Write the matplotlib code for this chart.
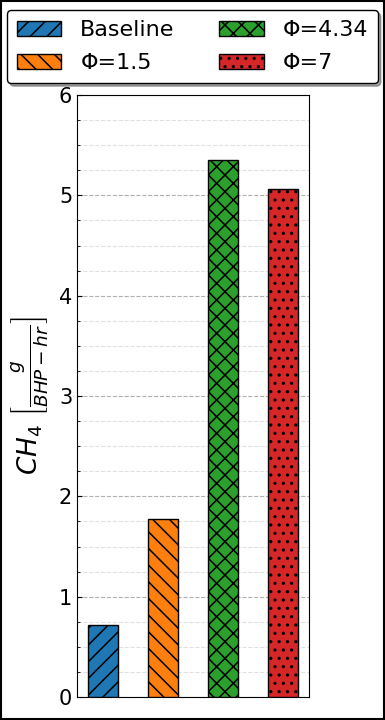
import matplotlib
matplotlib.use("Agg")
import matplotlib.pyplot as plt
from matplotlib.ticker import MultipleLocator
from matplotlib.patches import Rectangle

labels = ["Baseline", "Φ=1.5", "Φ=4.34", "Φ=7"]
values = [0.715, 1.77, 5.35, 5.06]
colors = ["#1f77b4", "#ff7f0e", "#2ca02c", "#d62728"]
hatches = ["//", "\\\\", "xx", ".."]

plt.rcParams["hatch.linewidth"] = 1.1

fig = plt.figure(figsize=(3.85, 7.2), dpi=100)
ax = fig.add_axes([77/385, 1 - 697/720, (309-77)/385, (697-95)/720])

x = range(len(labels))
for i in x:
    ax.bar(i, values[i], width=0.5, color=colors[i], edgecolor="black",
           linewidth=1.0, hatch=hatches[i], label=labels[i], zorder=3)

ax.set_ylim(0, 6)
ax.set_xticks([])
ax.yaxis.set_major_locator(MultipleLocator(1))
ax.yaxis.set_minor_locator(MultipleLocator(0.25))
ax.tick_params(axis="y", which="both", direction="in", labelsize=15)
ax.grid(axis="y", which="major", linestyle="--", color="#b0b0b0", linewidth=0.8, zorder=0)
ax.grid(axis="y", which="minor", linestyle="--", color="#e0e0e0", linewidth=0.8, zorder=0)
ax.set_axisbelow(True)
ax.set_ylabel(r"$CH_4\ \left[\frac{g}{BHP-hr}\right]$", fontsize=19, labelpad=6)

leg = fig.legend(loc="upper center", bbox_to_anchor=(0.5, 1 - 10/720), ncol=2,
                 fontsize=16, fancybox=True, shadow=True, framealpha=1,
                 edgecolor="black", handlelength=2.0, handleheight=0.65,
                 handletextpad=0.85, columnspacing=2.0, labelspacing=0.6,
                 borderpad=0.45, borderaxespad=0.0)

fig.patches.append(Rectangle((0.002, 0.002), 0.996, 0.996, transform=fig.transFigure,
                             fill=False, edgecolor="black", linewidth=1.5))

fig.savefig("out.png", dpi=100)
